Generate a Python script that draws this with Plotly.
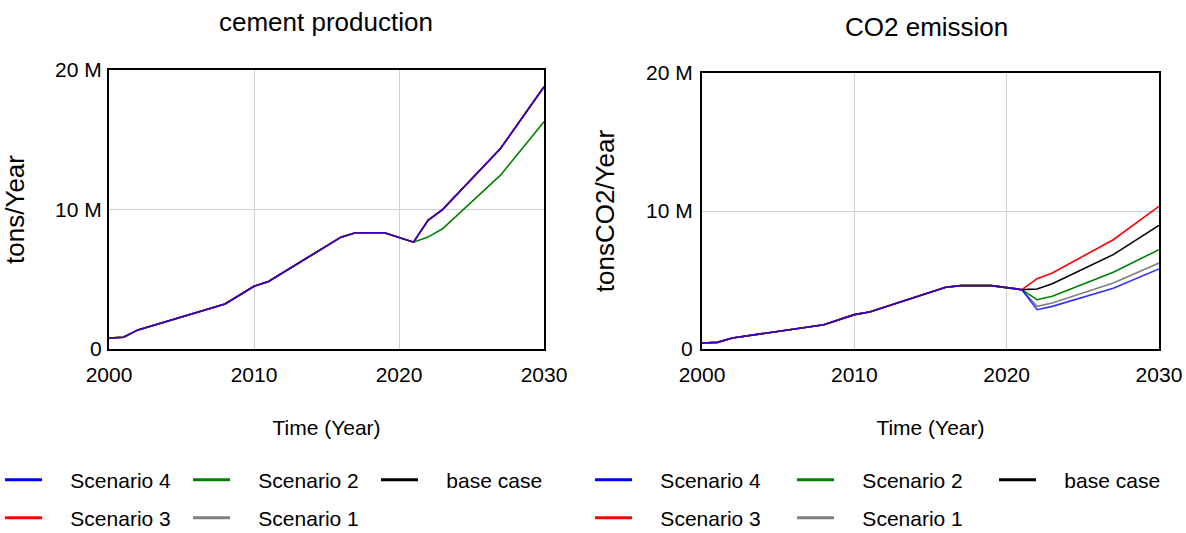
import plotly.graph_objects as go

# Simulation output, yearly knots (values in tons)
years = [2000, 2001, 2002, 2008, 2010, 2011, 2016, 2017, 2019, 2021, 2022, 2023, 2027, 2030]

# cement production (tons/Year)
cement_hist = [0.79e6, 0.84e6, 1.37e6, 3.23e6, 4.50e6, 4.84e6, 8.02e6, 8.33e6, 8.33e6, 7.66e6]
cement_high = [9.22e6, 9.99e6, 14.37e6, 18.80e6]
cement_s2 = [8.02e6, 8.62e6, 12.46e6, 16.29e6]

cement = {
    "base case": cement_hist + cement_high,
    "Scenario 1": cement_hist + cement_high,
    "Scenario 2": cement_hist + cement_s2,
    "Scenario 3": cement_hist + cement_high,
    "Scenario 4": cement_hist + cement_high,
}

# CO2 emission (tonsCO2/Year)
co2_hist = [0.43e6, 0.48e6, 0.80e6, 1.76e6, 2.49e6, 2.68e6, 4.47e6, 4.59e6, 4.59e6, 4.30e6]
co2 = {
    "base case": co2_hist + [4.35e6, 4.73e6, 6.84e6, 8.96e6],
    "Scenario 1": co2_hist + [3.09e6, 3.33e6, 4.78e6, 6.23e6],
    "Scenario 2": co2_hist + [3.57e6, 3.82e6, 5.56e6, 7.20e6],
    "Scenario 3": co2_hist + [5.10e6, 5.51e6, 7.92e6, 10.34e6],
    "Scenario 4": co2_hist + [2.85e6, 3.09e6, 4.40e6, 5.80e6],
}

colors = {
    "Scenario 4": "#0000ff",
    "Scenario 2": "#008000",
    "base case": "#000000",
    "Scenario 3": "#ff0000",
    "Scenario 1": "#808080",
}
draw_order = ["base case", "Scenario 1", "Scenario 2", "Scenario 3", "Scenario 4"]
legend_rows = [["Scenario 4", "Scenario 2", "base case"], ["Scenario 3", "Scenario 1"]]

y_ticks = [0, 10e6, 20e6]
y_ticktext = ["0", "10 M", "20 M"]
x_ticks = [2000, 2010, 2020, 2030]

FONT = "Liberation Sans, Arial, sans-serif"
SMALL = 21
BIG = 26
GAP = "\u00a0" * 4  # space between legend swatch and its label

fig = go.Figure()

# (data, x axis, y axis, legend id per row)
panels = [
    (cement, "x", "y", ["legend", "legend2"]),
    (co2, "x2", "y2", ["legend3", "legend4"]),
]

for data, xa, ya, legs in panels:
    for name in draw_order:
        fig.add_trace(go.Scatter(
            x=years, y=data[name], mode="lines", name=name,
            line=dict(color=colors[name], width=1.6),
            opacity=0.8 if name == "Scenario 4" else 1.0,
            xaxis=xa, yaxis=ya, showlegend=False, hoverinfo="skip",
        ))
    # legend entries, laid out in two rows under each panel
    for row, lg in zip(legend_rows, legs):
        for name in row:
            fig.add_trace(go.Scatter(
                x=[None], y=[None], mode="lines", name=GAP + name,
                line=dict(color=colors[name], width=3),
                xaxis=xa, yaxis=ya, legend=lg, showlegend=True,
            ))

axis_common = dict(
    showline=True, linecolor="black", linewidth=2, mirror=True,
    showgrid=True, gridcolor="#d0d0d0", gridwidth=1,
    zeroline=False, ticks="", automargin=False,
    tickfont=dict(family=FONT, size=SMALL, color="black"),
)


def legend_box(x, y, entry):
    return dict(orientation="h", x=x, xanchor="left", y=y, yanchor="middle",
                entrywidth=entry, entrywidthmode="pixels", itemwidth=37,
                font=dict(family=FONT, size=SMALL, color="black"),
                traceorder="normal", bgcolor="rgba(0,0,0,0)", borderwidth=0)


row1_y = 1 - 480 / 533
row2_y = 1 - 518 / 533

fig.update_layout(
    template="none",
    width=1186, height=533,
    margin=dict(l=0, r=0, t=0, b=0, autoexpand=False),
    paper_bgcolor="white", plot_bgcolor="white",
    font=dict(family=FONT, color="black"),
    xaxis=dict(domain=[0.0919, 0.4587], range=[2000, 2030], tickvals=x_ticks,
               ticklabelstandoff=6,
               title=dict(text="Time (Year)", font=dict(family=FONT, size=SMALL), standoff=35),
               **axis_common),
    yaxis=dict(domain=[0.3452, 0.8687], range=[0, 20e6], tickvals=y_ticks, ticktext=y_ticktext,
               ticklabelstandoff=1,
               title=dict(text="tons/Year", font=dict(family=FONT, size=BIG), standoff=26),
               **axis_common),
    xaxis2=dict(domain=[0.5919, 0.9772], range=[2000, 2030], tickvals=x_ticks, anchor="y2",
                ticklabelstandoff=6,
                title=dict(text="Time (Year)", font=dict(family=FONT, size=SMALL), standoff=35),
                **axis_common),
    yaxis2=dict(domain=[0.3452, 0.863], range=[0, 20e6], tickvals=y_ticks, ticktext=y_ticktext,
                anchor="x2", ticklabelstandoff=3,
                title=dict(text="tonsCO2/Year", font=dict(family=FONT, size=BIG), standoff=24),
                **axis_common),
    legend=legend_box(0.0, row1_y, 136),
    legend2=legend_box(0.0, row2_y, 136),
    legend3=legend_box(0.4975, row1_y, 150),
    legend4=legend_box(0.4975, row2_y, 150),
    annotations=[
        dict(text="cement production", x=0.275, y=1 - 22 / 533, xref="paper", yref="paper",
             showarrow=False, font=dict(family=FONT, size=BIG), xanchor="center", yanchor="middle"),
        dict(text="CO2 emission", x=0.781, y=1 - 27 / 533, xref="paper", yref="paper",
             showarrow=False, font=dict(family=FONT, size=BIG), xanchor="center", yanchor="middle"),
    ],
)

fig.write_html("out.html")
